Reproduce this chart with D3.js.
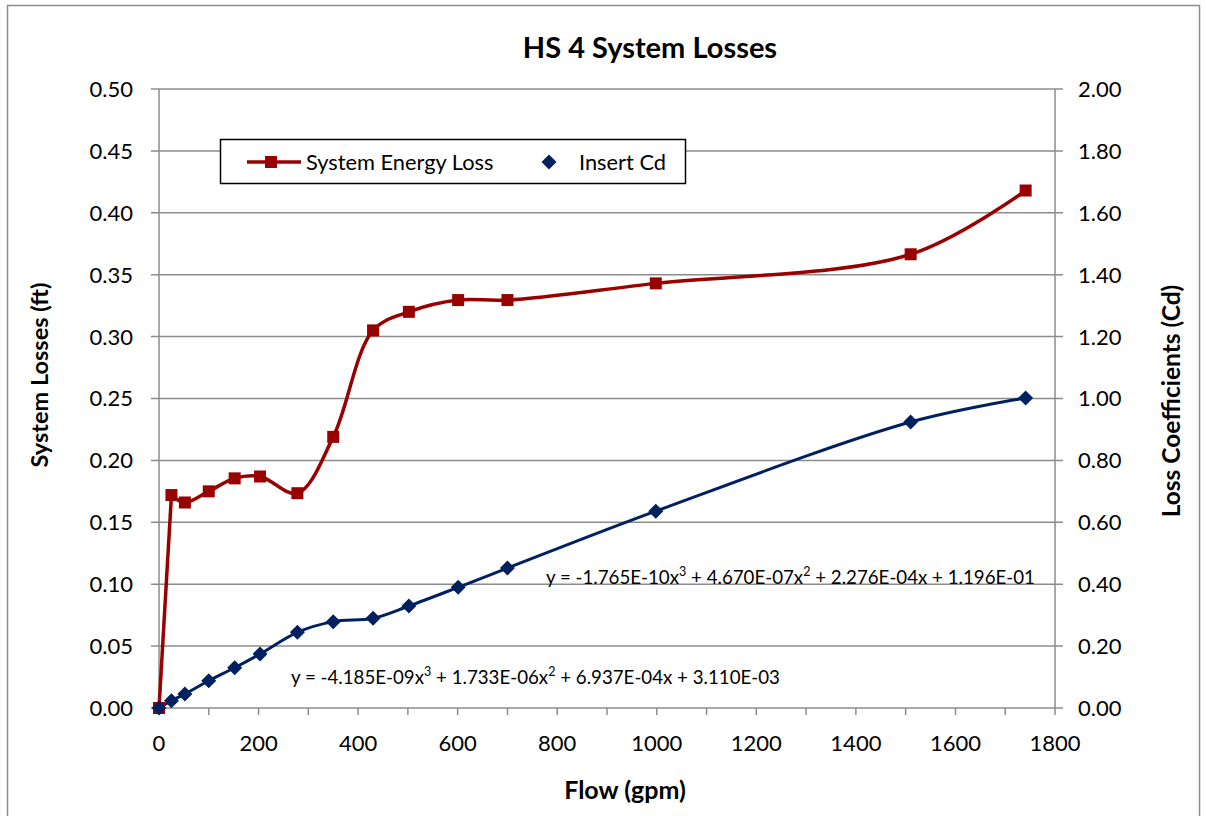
<!DOCTYPE html>
<html><head><meta charset="utf-8">
<script src="https://cdn.jsdelivr.net/npm/d3@7"></script>
<style>
html,body{margin:0;padding:0;background:#fff;}
text{font-family:Lato,"Open Sans",sans-serif;fill:#000;}
</style></head>
<body>
<svg id="chart" width="1206" height="816"></svg>
<script>
// ---- data ----
const flowEnergy = [0, 25, 52, 100, 152, 203, 278, 350, 430, 502, 601, 700, 998, 1510, 1741];
const energyLoss = [0, 0.172, 0.166, 0.175, 0.1855, 0.187, 0.1735, 0.219, 0.305, 0.320, 0.3295, 0.3295, 0.343, 0.3665, 0.418];
const flowCd = [0, 25, 52, 100, 152, 203, 278, 350, 430, 502, 601, 700, 998, 1510, 1741];
const insertCd = [0, 0.0236, 0.045, 0.088, 0.13, 0.1745, 0.2445, 0.279, 0.290, 0.3296, 0.39, 0.452, 0.636, 0.924, 1.0016];
const xTicks = [0, 200, 400, 600, 800, 1000, 1200, 1400, 1600, 1800];
const xMinorTicks = [0,100,200,300,400,500,600,700,800,900,1000,1100,1200,1300,1400,1500,1600,1700,1800];
const yLeftTicks = [0, 0.05, 0.10, 0.15, 0.20, 0.25, 0.30, 0.35, 0.40, 0.45, 0.50];
const yRightTicks = [0, 0.2, 0.4, 0.6, 0.8, 1.0, 1.2, 1.4, 1.6, 1.8, 2.0];
const seriesNames = ["System Energy Loss", "Insert Cd"];
const titleText = "HS 4 System Losses";
const xTitle = "Flow (gpm)";
const yLeftTitle = "System Losses (ft)";
const yRightTitle = "Loss Coefficients (Cd)";
const eqHigh = [["y = -1.765E-10x",""],["3","sup"],[" + 4.670E-07x",""],["2","sup"],[" + 2.276E-04x + 1.196E-01",""]];
const eqLow = [["y = -4.185E-09x",""],["3","sup"],[" + 1.733E-06x",""],["2","sup"],[" + 6.937E-04x + 3.110E-03",""]];

const RED = "#990000", BLUE = "#002060", GRID = "#8c8c8c";
const svg = d3.select("#chart");

// outer border
svg.append("rect").attr("x",7.5).attr("y",5.5).attr("width",1192).attr("height",830)
  .attr("fill","#fff").attr("stroke","#8c8c8c").attr("stroke-width",1.5);

const x = d3.scaleLinear().domain([0,1800]).range([159,1055]);
const yL = d3.scaleLinear().domain([0,0.5]).range([708,89]);
const yR = d3.scaleLinear().domain([0,2]).range([708,89]);

// gridlines
svg.append("g").selectAll("line").data(yLeftTicks).join("line")
  .attr("x1",151).attr("x2",1063)
  .attr("y1",d=>yL(d)).attr("y2",d=>yL(d))
  .attr("stroke",GRID).attr("stroke-width",1.5);
// vertical axis lines
svg.append("line").attr("x1",159).attr("x2",159).attr("y1",89).attr("y2",708).attr("stroke",GRID).attr("stroke-width",1.5);
svg.append("line").attr("x1",1055).attr("x2",1055).attr("y1",89).attr("y2",708).attr("stroke",GRID).attr("stroke-width",1.5);
// x minor ticks
svg.append("g").selectAll("line").data(xMinorTicks).join("line")
  .attr("x1",d=>x(d)).attr("x2",d=>x(d)).attr("y1",708).attr("y2",715)
  .attr("stroke",GRID).attr("stroke-width",1.5);

// tick labels
svg.append("g").selectAll("text").data(yLeftTicks).join("text")
  .attr("x",133).attr("y",d=>yL(d)).attr("dy","0.36em").attr("text-anchor","end")
  .attr("font-size",22).text(d=>d3.format(".2f")(d));
svg.append("g").selectAll("text").data(yRightTicks).join("text")
  .attr("x",1078).attr("y",d=>yR(d)).attr("dy","0.36em").attr("text-anchor","start")
  .attr("font-size",22).text(d=>d3.format(".2f")(d));
svg.append("g").selectAll("text").data(xTicks).join("text")
  .attr("x",d=>x(d)).attr("y",751).attr("text-anchor","middle")
  .attr("font-size",22).text(d=>d);

// titles
svg.append("text").attr("x",650).attr("y",58).attr("text-anchor","middle")
  .attr("font-size",29).attr("font-weight","bold").text(titleText);
svg.append("text").attr("x",625).attr("y",799).attr("text-anchor","middle")
  .attr("font-size",25).attr("font-weight","bold").text(xTitle);
svg.append("text").attr("transform","translate(48,375) rotate(-90)").attr("text-anchor","middle")
  .attr("font-size",23.5).attr("font-weight","bold").text(yLeftTitle);
svg.append("text").attr("transform","translate(1180,401) rotate(-90)").attr("text-anchor","middle")
  .attr("font-size",24.5).attr("font-weight","bold").text(yRightTitle);

// series lines
const redPts = energyLoss.map((d,i)=>[x(flowEnergy[i]), yL(d)]);
const firstSeg = d3.line().curve(d3.curveLinear)(redPts.slice(0,2));
const restSeg = d3.line().curve(d3.curveCatmullRom.alpha(0.5))(redPts.slice(1));
svg.append("path").attr("d",firstSeg).attr("fill","none").attr("stroke",RED).attr("stroke-width",3.5);
svg.append("path").attr("d",restSeg).attr("fill","none").attr("stroke",RED).attr("stroke-width",3.5).attr("stroke-linejoin","round");
const blueLine = d3.line().x((d,i)=>x(flowCd[i])).y(d=>yR(d)).curve(d3.curveCatmullRom.alpha(0.5));
svg.append("path").attr("d",blueLine(insertCd)).attr("fill","none").attr("stroke",BLUE).attr("stroke-width",3);

// markers
svg.append("g").selectAll("rect").data(energyLoss).join("rect")
  .attr("x",(d,i)=>x(flowEnergy[i])-6).attr("y",d=>yL(d)-6).attr("width",12).attr("height",12)
  .attr("fill",RED);
const diamond = s => `M0,${-s}L${s},0L0,${s}L${-s},0Z`;
svg.append("g").selectAll("path").data(insertCd).join("path")
  .attr("transform",(d,i)=>`translate(${x(flowCd[i])},${yR(d)})`).attr("d",diamond(7.5))
  .attr("fill",BLUE);

// equations
function eq(parts, xx, yy){
  const t = svg.append("text").attr("x",xx).attr("y",yy).attr("font-size",18.7);
  parts.forEach(p=>{
    const s = t.append("tspan").text(p[0]);
    if(p[1]==="sup") s.attr("font-size",12.5).attr("dy",-8);
    else if(t.selectAll("tspan").size()>1) s.attr("dy",8);
  });
}
eq(eqHigh, 546, 584);
eq(eqLow, 291, 684);

// legend
const lg = svg.append("g");
lg.append("rect").attr("x",220.5).attr("y",139.5).attr("width",465).attr("height",44)
  .attr("fill","#fff").attr("stroke","#000").attr("stroke-width",1.5);
lg.append("line").attr("x1",247).attr("x2",301).attr("y1",162).attr("y2",162).attr("stroke",RED).attr("stroke-width",3.5);
lg.append("rect").attr("x",265).attr("y",156).attr("width",12).attr("height",12).attr("fill",RED);
lg.append("text").attr("x",306).attr("y",162).attr("dy","0.36em").attr("font-size",21.8).text(seriesNames[0]);
lg.append("path").attr("transform","translate(549,162)").attr("d",diamond(7.5)).attr("fill",BLUE);
lg.append("text").attr("x",579).attr("y",162).attr("dy","0.36em").attr("font-size",21.8).text(seriesNames[1]);
</script>
</body></html>
